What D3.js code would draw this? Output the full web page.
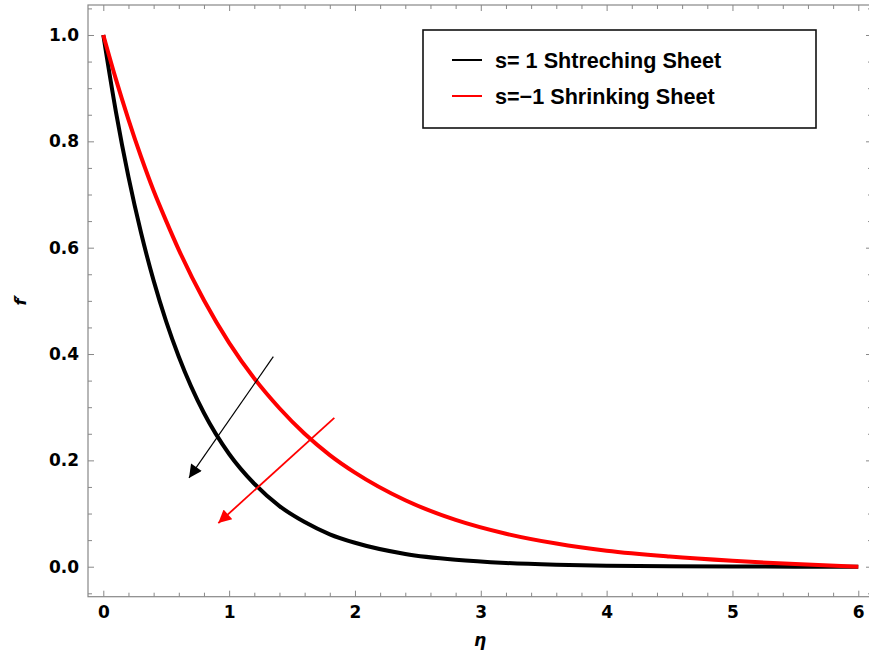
<!DOCTYPE html>
<html>
<head>
<meta charset="utf-8">
<script src="https://cdn.jsdelivr.net/npm/d3@7"></script>
<style>
  body { margin: 0; background: #fff; }
  svg { display: block; }
  .tick text { font-family: "DejaVu Sans", sans-serif; font-weight: bold; font-size: 17px; fill: #000; }
</style>
</head>
<body>
<div id="main"></div>
<script>
// values
const eta = [0, 0.1, 0.2, 0.3, 0.4, 0.5, 0.6, 0.8, 1.0, 1.2, 1.4, 1.6, 1.8, 2.0, 2.4, 2.8, 3.2, 3.6, 4.0, 4.5, 5.0, 5.5, 6.0];
const stretching = [1, 0.856, 0.733, 0.628, 0.538, 0.461, 0.395, 0.289, 0.212, 0.156, 0.114, 0.084, 0.061, 0.045, 0.024, 0.013, 0.007, 0.0038, 0.002, 0.0009, 0.0004, 0.0001, 0];
const shrinking = [1, 0.917, 0.841, 0.771, 0.707, 0.650, 0.596, 0.501, 0.421, 0.354, 0.298, 0.250, 0.210, 0.177, 0.125, 0.088, 0.062, 0.0435, 0.030, 0.019, 0.011, 0.0049, 0];

const xTicks = [0, 1, 2, 3, 4, 5, 6];
const yTicks = [0, 0.2, 0.4, 0.6, 0.8, 1.0];

const legendLabels = ['s= 1 Shtreching Sheet', 's=\u22121 Shrinking Sheet'];
const seriesColors = ['#000000', '#ff0000'];

// arrows: [eta0, f0, eta1, f1]
const arrows = [
  [1.351, 0.395, 0.681, 0.167],
  [1.836, 0.280, 0.914, 0.082]
];

const width = 869, height = 657;
const frame = { left: 88, right: 872, top: 5, bottom: 596.7 };

const svg = d3.select('#main').append('svg')
  .attr('width', width)
  .attr('height', height);

const x = d3.scaleLinear()
  .domain([-0.1216, 6.109])
  .range([frame.left, frame.right]);

const y = d3.scaleLinear()
  .domain([-0.0564, 1.0564])
  .range([frame.bottom, frame.top]);

const xMinor = d3.range(0, 6.01, 0.2).filter(v => Math.abs(v - Math.round(v)) > 1e-6);
const yMinor = d3.range(-0.05, 1.06, 0.05).filter(v => Math.abs(v * 5 - Math.round(v * 5)) > 1e-6);

function styleAxis(g) {
  g.select('.domain').remove();
  g.selectAll('.tick line').attr('stroke', '#888').attr('stroke-width', 1);
}

// major ticks with labels
svg.append('g')
  .attr('transform', 'translate(0,' + frame.bottom + ')')
  .call(d3.axisBottom(x).tickValues(xTicks).tickSize(-6).tickPadding(9.5).tickFormat(d3.format('d')))
  .call(styleAxis);

svg.append('g')
  .attr('transform', 'translate(' + frame.left + ',0)')
  .call(d3.axisLeft(y).tickValues(yTicks).tickSize(-6).tickPadding(9).tickFormat(d3.format('.1f')))
  .call(styleAxis);

// ticks on the top and right frame, no labels
svg.append('g')
  .attr('transform', 'translate(0,' + frame.top + ')')
  .call(d3.axisTop(x).tickValues(xTicks).tickSize(-6).tickFormat(''))
  .call(styleAxis);

svg.append('g')
  .attr('transform', 'translate(' + frame.right + ',0)')
  .call(d3.axisRight(y).tickValues(yTicks).tickSize(-6).tickFormat(''))
  .call(styleAxis);

// minor ticks
[[d3.axisBottom(x).tickValues(xMinor), 'translate(0,' + frame.bottom + ')'],
 [d3.axisTop(x).tickValues(xMinor), 'translate(0,' + frame.top + ')'],
 [d3.axisLeft(y).tickValues(yMinor), 'translate(' + frame.left + ',0)'],
 [d3.axisRight(y).tickValues(yMinor), 'translate(' + frame.right + ',0)']
].forEach(([ax, tr]) => {
  svg.append('g')
    .attr('transform', tr)
    .call(ax.tickSize(-4).tickFormat(''))
    .call(styleAxis);
});

// frame
svg.append('rect')
  .attr('x', frame.left)
  .attr('y', frame.top)
  .attr('width', frame.right - frame.left)
  .attr('height', frame.bottom - frame.top)
  .attr('fill', 'none')
  .attr('stroke', '#888')
  .attr('stroke-width', 1.2);

// curves
const line = d3.line()
  .x((d, i) => x(eta[i]))
  .y(d => y(d))
  .curve(d3.curveMonotoneX);

[stretching, shrinking].forEach((s, i) => {
  svg.append('path')
    .datum(s)
    .attr('d', line)
    .attr('fill', 'none')
    .attr('stroke', seriesColors[i])
    .attr('stroke-width', 4)
    .attr('stroke-linejoin', 'round');
});

// arrows
const defs = svg.append('defs');
seriesColors.forEach((c, i) => {
  defs.append('marker')
    .attr('id', 'arrow' + i)
    .attr('viewBox', '0 0 10 10')
    .attr('refX', 10)
    .attr('refY', 5)
    .attr('markerUnits', 'userSpaceOnUse')
    .attr('markerWidth', 16)
    .attr('markerHeight', 13)
    .attr('orient', 'auto')
    .append('path')
    .attr('d', 'M0,0 L10,5 L0,10 z')
    .attr('fill', c);
});

arrows.forEach((a, i) => {
  svg.append('line')
    .attr('x1', x(a[0])).attr('y1', y(a[1]))
    .attr('x2', x(a[2])).attr('y2', y(a[3]))
    .attr('stroke', seriesColors[i])
    .attr('stroke-width', i === 0 ? 1.2 : 1.8)
    .attr('marker-end', 'url(#arrow' + i + ')');
});

// legend
const legend = svg.append('g');
legend.append('rect')
  .attr('x', 423)
  .attr('y', 30)
  .attr('width', 393)
  .attr('height', 98)
  .attr('fill', '#fff')
  .attr('stroke', '#111')
  .attr('stroke-width', 1.6);

legendLabels.forEach((lab, i) => {
  const ly = 60 + i * 36;
  legend.append('line')
    .attr('x1', 452).attr('x2', 482)
    .attr('y1', ly).attr('y2', ly)
    .attr('stroke', seriesColors[i])
    .attr('stroke-width', 2);
  legend.append('text')
    .attr('x', 495)
    .attr('y', ly + 7.5)
    .attr('font-family', 'Liberation Sans, Arial, sans-serif')
    .attr('font-weight', 'bold')
    .attr('font-size', '21.6px')
    .text(lab);
});

// axis labels
svg.append('text')
  .attr('x', 480)
  .attr('y', 646)
  .attr('text-anchor', 'middle')
  .attr('font-family', 'DejaVu Sans, sans-serif')
  .attr('font-weight', 'bold')
  .attr('font-style', 'italic')
  .attr('font-size', '17px')
  .text('\u03b7');

svg.append('text')
  .attr('transform', 'translate(26,300) rotate(-90)')
  .attr('text-anchor', 'middle')
  .attr('font-family', 'DejaVu Sans, sans-serif')
  .attr('font-weight', 'bold')
  .attr('font-style', 'italic')
  .attr('font-size', '16px')
  .text('f\u2032');
</script>
</body>
</html>
